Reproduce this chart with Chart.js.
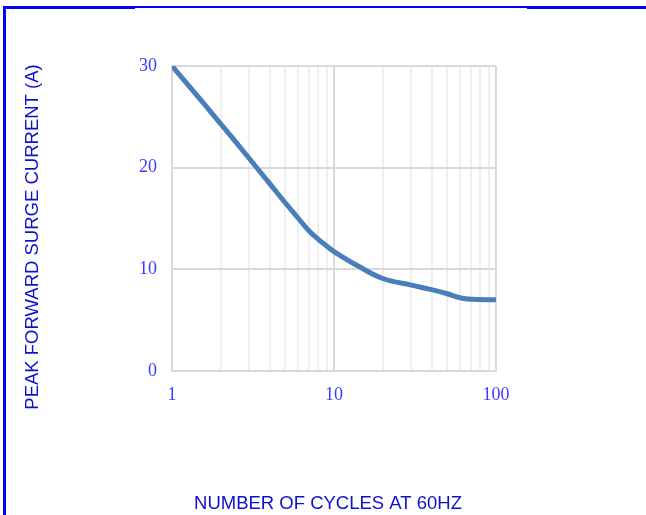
<!DOCTYPE html>
<html>
<head>
<meta charset="utf-8">
<style>
  html, body { margin: 0; padding: 0; background: #fff; }
  #wrap { position: relative; width: 646px; height: 515px; overflow: hidden; }
  .edge { position: absolute; background: #0000ff; }
</style>
</head>
<body>
<div id="wrap">
  <canvas id="chart" width="646" height="515"></canvas>
  <!-- blue frame around the figure -->
  <div class="edge" style="left:3px; top:6px; width:643px; height:2px;"></div>
  <div class="edge" style="left:3px; top:8px; width:132px; height:1px;"></div>
  <div class="edge" style="left:527px; top:8px; width:119px; height:1px;"></div>
  <div class="edge" style="left:3px; top:6px; width:3px; height:509px;"></div>
</div>

<script src="https://cdn.jsdelivr.net/npm/chart.js"></script>
<script>
/* ---------------- DATA ---------------- */
const cycles = [1, 1.5, 2, 3, 4, 5, 6, 7, 8, 9, 10, 14, 20, 30, 40, 50, 60, 70, 100];
const surgeCurrent = [30, 26.7, 24.3, 20.9, 18.45, 16.55, 15.05, 13.8, 12.95, 12.3, 11.75, 10.35, 9.1, 8.45, 8.0, 7.6, 7.2, 7.05, 7.0];
const xGridValues = [1, 2, 3, 4, 5, 6, 7, 8, 9, 10, 20, 30, 40, 50, 60, 70, 80, 90, 100];
const xTickLabels = [1, 10, 100];
const yTickValues = [0, 10, 20, 30];

const xTitle = 'NUMBER OF CYCLES AT 60HZ';
const yTitle = 'PEAK FORWARD SURGE CURRENT (A)';

const tickColor = '#3b3bff';
const titleColor = '#0f0fcf';
const tickFont = { family: '"Liberation Serif", "Times New Roman", serif', size: 18 };

// axis titles drawn at fixed spots, like the original sheet
const axisTitles = {
  id: 'axisTitles',
  afterDraw(chart) {
    const ctx = chart.ctx;
    ctx.save();
    ctx.fillStyle = titleColor;
    ctx.font = '18.5px "Liberation Sans", Arial, sans-serif';
    ctx.textAlign = 'center';
    ctx.textBaseline = 'middle';
    ctx.fillText(xTitle, 328, 504);
    ctx.translate(33, 237);
    ctx.rotate(-Math.PI / 2);
    ctx.fillText(yTitle, 0, 0);
    ctx.restore();
  }
};

function drawChart() {
  const ctx = document.getElementById('chart').getContext('2d');
  new Chart(ctx, {
    type: 'scatter',
    data: {
      datasets: [{
        data: cycles.map((c, i) => ({ x: c, y: surgeCurrent[i] })),
        showLine: true,
        borderColor: '#4a7ebb',
        borderWidth: 5,
        pointRadius: 0,
        tension: 0.4
      }]
    },
    options: {
      responsive: false,
      animation: false,
      layout: { padding: { left: 0, top: 66, right: 150, bottom: 0 } },
      plugins: { legend: { display: false }, tooltip: { enabled: false } },
      scales: {
        x: {
          type: 'logarithmic',
          min: 1,
          max: 100,
          afterFit: s => { s.height = 144; },
          afterBuildTicks: s => { s.ticks = xGridValues.map(v => ({ value: v })); },
          grid: {
            drawTicks: false,
            lineWidth: 2,
            color: c => (c.tick && xTickLabels.includes(c.tick.value)) ? '#d9d9d9' : '#efefef'
          },
          border: { color: '#d9d9d9', width: 2 },
          ticks: {
            autoSkip: false,
            maxRotation: 0,
            padding: 13,
            color: tickColor,
            font: tickFont,
            callback: v => xTickLabels.includes(v) ? String(v) : ''
          }
        },
        y: {
          min: 0,
          max: 30,
          afterFit: s => { s.width = 172; },
          afterBuildTicks: s => { s.ticks = yTickValues.map(v => ({ value: v })); },
          grid: { drawTicks: false, lineWidth: 2, color: '#d9d9d9' },
          border: { color: '#d9d9d9', width: 2 },
          ticks: { padding: 15, color: tickColor, font: tickFont }
        }
      }
    },
    plugins: [axisTitles]
  });
}

drawChart();
</script>
</body>
</html>
